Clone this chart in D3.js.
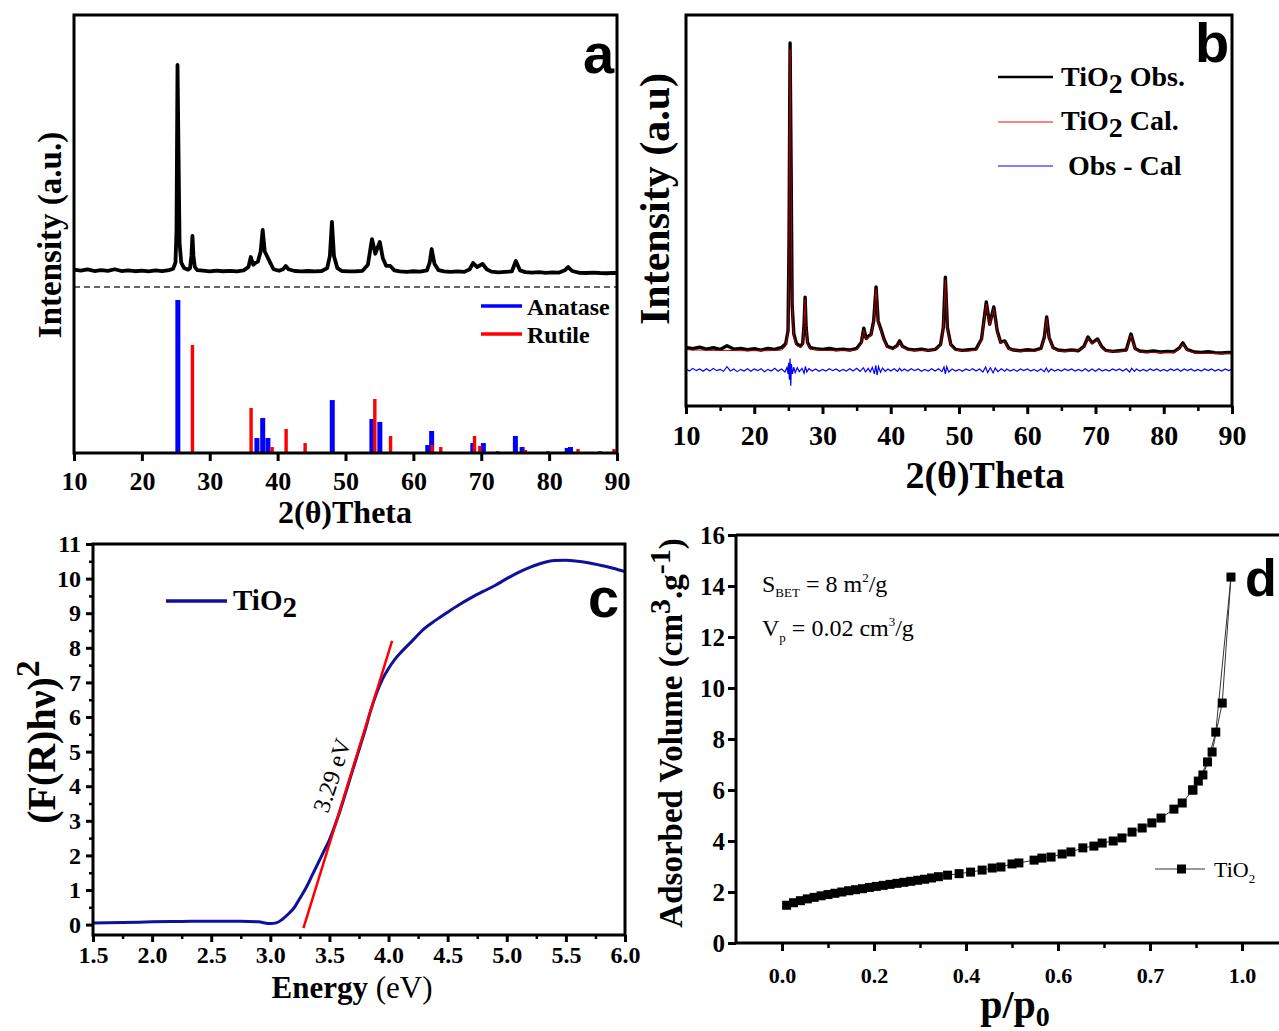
<!DOCTYPE html>
<html><head><meta charset="utf-8">
<script src="https://cdn.jsdelivr.net/npm/d3@7"></script>
<style>body{margin:0;background:#fff}svg{display:block}</style>
</head><body>
<svg id="fig" width="1279" height="1031"></svg>
<script>
// ---------------- DATA ----------------
// Panel a: XRD observed pattern [2theta, intensity a.u.]
const xrdA = [[10,7.8],[11,7.4],[12,7.9],[13,7.2],[14,7.6],[15,7.3],[16,8.0],[17,7.2],[18,7.5],[19,7.1],[20,7.4],[21,7.0],[22,7.5],[23,7.2],[24,7.6],[24.6,8.2],[24.95,11],[25.1,25],[25.25,100],[25.4,60],[25.55,20],[25.8,11],[26.2,8.6],[26.8,7.8],[27.1,8.5],[27.3,14],[27.45,23],[27.6,14],[27.8,9],[28.2,7.6],[29,7.4],[30,7.0],[31,7.4],[32,7.1],[33,7.3],[34,7.0],[35,7.5],[35.7,9],[36.05,13.5],[36.4,10],[36.8,11],[37.1,11.5],[37.5,16],[37.8,25.7],[38.1,16],[38.5,13.5],[38.9,11],[39.4,8],[40.2,7.3],[40.8,8],[41.2,9.5],[41.6,8],[42.5,7.2],[43.5,7.0],[44.5,7.2],[45.5,7.0],[46.5,7.2],[47.3,8.5],[47.7,14],[48.0,29.3],[48.3,14],[48.8,8.5],[49.5,7.2],[50.5,7.0],[51.5,7.1],[52.5,7.3],[53.3,10],[53.9,21.6],[54.4,15],[55.05,20.3],[55.5,13],[56.0,9.5],[56.6,9.5],[57.2,7.5],[58,7.0],[59,6.8],[60,7.1],[61,6.9],[62,7.5],[62.4,11],[62.7,17.1],[63.1,10.5],[63.7,7.6],[64.5,7.0],[65.5,6.8],[66.5,7.0],[67.5,6.8],[68.3,8],[68.8,10.8],[69.4,9],[70.2,10.4],[70.8,8],[71.5,6.9],[72.5,6.6],[73.5,6.8],[74.5,7.0],[75.1,11.7],[75.7,7.5],[76.5,6.7],[77.5,6.5],[78.5,6.7],[79.5,6.4],[80.5,6.6],[81.5,6.5],[82.3,7.5],[82.8,9.0],[83.4,7.2],[84.5,6.4],[85.5,6.3],[86.5,6.5],[87.5,6.3],[88.5,6.2],[89.5,6.4],[90,6.3]];
// Panel a: reference lines [2theta, relative intensity]
const anatase = [[25.3,100],[36.95,9.8],[37.8,22.9],[38.57,9.8],[48.05,34.6],[53.89,22.2],[55.06,20.3],[62.12,5.2],[62.69,14.4],[68.76,6.5],[70.31,6.5],[75.03,11.1],[76.02,3.9],[82.66,3.3],[83.15,3.9]];
const rutile = [[27.45,70.6],[36.09,29.4],[39.19,3.9],[41.25,15.7],[44.05,6.5],[54.32,35.3],[56.64,11.1],[62.75,5.2],[64.04,3.9],[69.01,11.1],[69.79,4.6],[72.41,1.3],[76.51,2.0],[79.82,1.3],[84.26,2.6],[87.5,1.3],[89.55,2.6]];
const thetaTicks = [10,20,30,40,50,60,70,80,90];
const thetaMinor = [15,25,35,45,55,65,75,85];

// Panel b: Rietveld refinement [2theta, intensity]
const obsB = [[10,6.9],[11,6.5],[12,7.0],[13,6.4],[14,6.8],[15,6.3],[16,7.4],[17,6.4],[18,6.6],[19,6.2],[20,6.5],[21,6.1],[22,6.6],[23,6.3],[24,6.9],[24.6,8],[24.95,12],[25.1,40],[25.25,100],[25.4,62],[25.55,20],[25.8,11],[26.2,8],[26.8,7.3],[27.1,8.2],[27.3,14],[27.45,22.3],[27.6,13],[27.8,8.5],[28.2,6.8],[29,6.5],[30,6.3],[31,6.6],[32,6.2],[33,6.4],[34,6.1],[35,6.6],[35.7,8.5],[36.05,12.8],[36.4,9.6],[36.8,10.5],[37.1,10.8],[37.5,15],[37.85,25.4],[38.15,15],[38.6,12.2],[39.0,9.5],[39.5,7.2],[40.3,6.6],[40.9,7.4],[41.3,8.9],[41.7,7.3],[42.5,6.4],[43.5,6.1],[44.5,6.4],[45.5,6.0],[46.5,6.3],[47.3,7.8],[47.7,13],[48.0,28.4],[48.3,13],[48.8,7.8],[49.5,6.3],[50.5,6.0],[51.5,6.2],[52.5,6.4],[53.3,9.5],[54.0,20.8],[54.5,14],[55.1,19.3],[55.6,12],[56.1,8.5],[56.7,8.9],[57.3,6.6],[58,6.1],[59,5.9],[60,6.2],[61,6.0],[62,6.6],[62.5,10],[62.85,16.2],[63.2,10],[63.8,6.8],[64.5,6.1],[65.5,5.9],[66.5,6.1],[67.5,5.9],[68.3,7.2],[68.9,10.1],[69.5,8.3],[70.3,9.5],[70.9,7.2],[71.5,6.0],[72.5,5.7],[73.5,5.9],[74.5,6.1],[75.2,11.0],[75.8,6.6],[76.5,5.8],[77.5,5.6],[78.5,5.8],[79.5,5.5],[80.5,5.7],[81.5,5.6],[82.3,6.8],[82.8,8.3],[83.4,6.3],[84.5,5.5],[85.5,5.4],[86.5,5.6],[87.5,5.3],[88.5,5.2],[89.5,5.4],[90,5.3]];
const calcB = [[10,6.2],[12,6.1],[14,6.0],[16,6.0],[18,5.9],[20,5.9],[22,5.9],[24,6.1],[24.6,7.2],[24.95,11],[25.1,38],[25.25,98],[25.4,60],[25.55,19],[25.8,10],[26.2,7.5],[26.8,6.8],[27.1,7.8],[27.3,13.5],[27.45,21.5],[27.6,12.5],[27.8,8],[28.2,6.4],[30,6.0],[32,5.9],[34,5.9],[35,6.2],[35.7,8.2],[36.05,12.3],[36.4,9.3],[36.8,10.2],[37.1,10.5],[37.5,14.6],[37.85,24.8],[38.15,14.6],[38.6,11.8],[39.0,9.2],[39.5,6.9],[40.3,6.3],[40.9,7.1],[41.3,8.6],[41.7,7.0],[42.5,6.1],[44,5.9],[46,5.9],[47.3,7.5],[47.7,12.6],[48.0,27.6],[48.3,12.6],[48.8,7.5],[49.5,6.0],[51,5.8],[52.5,6.1],[53.3,9.2],[54.0,20.2],[54.5,13.6],[55.1,18.8],[55.6,11.7],[56.1,8.2],[56.7,8.6],[57.3,6.3],[59,5.7],[61,5.7],[62,6.3],[62.5,9.7],[62.85,15.8],[63.2,9.7],[63.8,6.5],[65,5.7],[67,5.7],[68.3,6.9],[68.9,9.8],[69.5,8.0],[70.3,9.2],[70.9,6.9],[71.5,5.8],[73,5.5],[74.5,5.8],[75.2,10.6],[75.8,6.3],[76.5,5.5],[78,5.4],[80,5.3],[81.5,5.3],[82.3,6.5],[82.8,8.0],[83.4,6.0],[84.5,5.2],[86,5.1],[88,5.0],[90,5.0]];
const diffB = [[10,0.4],[10.5,-0.3],[11,0.5],[11.5,-0.2],[12,0.3],[12.5,-0.4],[13,0.4],[13.5,-0.3],[14,0.5],[14.5,-0.2],[15,0.2],[15.5,-0.4],[16,1.0],[16.5,-0.3],[17,0.3],[17.5,-0.5],[18,0.2],[18.5,-0.3],[19,0.4],[19.5,-0.4],[20,0.3],[20.5,-0.2],[21,0.4],[21.5,-0.5],[22,0.2],[22.5,-0.3],[23,0.5],[23.5,-0.4],[24,0.3],[24.5,-0.6],[24.8,0.8],[24.95,-1.2],[25.05,2.2],[25.15,-3.0],[25.25,3.5],[25.35,-4.8],[25.45,1.8],[25.6,-1.2],[25.8,0.9],[26.0,-0.8],[26.3,0.7],[26.6,-0.5],[27.0,0.5],[27.3,-1.0],[27.5,1.1],[27.7,-0.6],[28,0.4],[28.5,-0.3],[29,0.3],[29.5,-0.4],[30,0.2],[30.5,-0.3],[31,0.4],[31.5,-0.2],[32,0.3],[32.5,-0.4],[33,0.2],[33.5,-0.3],[34,0.4],[34.5,-0.3],[35,0.5],[35.5,-0.4],[36,0.7],[36.3,-0.6],[36.7,0.5],[37.0,-0.6],[37.3,0.8],[37.6,-1.2],[37.8,1.4],[38.0,-1.6],[38.2,1.0],[38.5,-0.7],[38.8,0.6],[39.2,-0.4],[39.6,0.3],[40,-0.3],[40.5,0.4],[41,-0.4],[41.3,0.5],[41.6,-0.3],[42,0.3],[42.5,-0.3],[43,0.4],[43.5,-0.2],[44,0.3],[44.5,-0.4],[45,0.2],[45.5,-0.3],[46,0.4],[46.5,-0.3],[47,0.4],[47.5,-0.5],[47.8,0.9],[48.0,-1.2],[48.2,1.0],[48.5,-0.6],[49,0.3],[49.5,-0.3],[50,0.2],[50.5,-0.4],[51,0.3],[51.5,-0.2],[52,0.4],[52.5,-0.3],[53,0.3],[53.5,-0.6],[53.9,0.9],[54.2,-0.8],[54.6,0.7],[55.0,-0.9],[55.3,0.6],[55.7,-0.5],[56.2,0.4],[56.7,-0.4],[57,0.3],[57.5,-0.3],[58,0.2],[58.5,-0.4],[59,0.3],[59.5,-0.2],[60,0.3],[60.5,-0.3],[61,0.2],[61.5,-0.4],[62,0.3],[62.5,-0.5],[62.8,0.6],[63.1,-0.6],[63.5,0.3],[64,-0.3],[64.5,0.2],[65,-0.3],[65.5,0.3],[66,-0.2],[66.5,0.3],[67,-0.3],[67.5,0.2],[68,-0.3],[68.5,0.4],[69,-0.4],[69.5,0.3],[70,-0.4],[70.5,0.4],[71,-0.3],[71.5,0.2],[72,-0.3],[72.5,0.3],[73,-0.2],[73.5,0.3],[74,-0.3],[74.5,0.4],[75,-0.6],[75.3,0.5],[75.7,-0.4],[76,0.3],[76.5,-0.3],[77,0.2],[77.5,-0.3],[78,0.3],[78.5,-0.2],[79,0.3],[79.5,-0.3],[80,0.2],[80.5,-0.3],[81,0.3],[81.5,-0.2],[82,0.3],[82.5,-0.4],[83,0.3],[83.5,-0.2],[84,0.3],[84.5,-0.3],[85,0.2],[85.5,-0.3],[86,0.3],[86.5,-0.2],[87,0.3],[87.5,-0.3],[88,0.2],[88.5,-0.3],[89,0.3],[89.5,-0.2],[90,0.2]];

// Panel c: Kubelka-Munk plot [E (eV), (F(R)hv)^2]
const kmC = [[1.5,0.05],[1.75,0.06],[2.0,0.08],[2.25,0.09],[2.5,0.1],[2.75,0.1],[2.9,0.08],[3.0,0.03],[3.05,0.05],[3.1,0.15],[3.15,0.3],[3.2,0.48],[3.25,0.76],[3.3,1.05],[3.35,1.4],[3.4,1.75],[3.45,2.1],[3.5,2.45],[3.55,2.9],[3.6,3.4],[3.65,3.95],[3.7,4.5],[3.75,5.05],[3.8,5.6],[3.85,6.2],[3.9,6.7],[3.95,7.1],[4.0,7.4],[4.05,7.65],[4.1,7.85],[4.2,8.2],[4.3,8.55],[4.4,8.8],[4.5,9.03],[4.6,9.25],[4.7,9.45],[4.8,9.63],[4.9,9.8],[5.0,10.0],[5.1,10.18],[5.2,10.33],[5.3,10.45],[5.4,10.52],[5.5,10.53],[5.6,10.5],[5.7,10.45],[5.8,10.38],[5.9,10.3],[6.0,10.2]];
const tangentC = [[3.28,-0.1],[4.03,8.2]];
const eTicks = [1.5,2.0,2.5,3.0,3.5,4.0,4.5,5.0,5.5,6.0];
const eMinor = [1.75,2.25,2.75,3.25,3.75,4.25,4.75,5.25,5.75];
const kmTicks = [0,1,2,3,4,5,6,7,8,9,10,11];
const kmMinor = [0.5,1.5,2.5,3.5,4.5,5.5,6.5,7.5,8.5,9.5,10.5];

// Panel d: N2 isotherm [p/p0, volume]
const adsD = [[0.01,1.48],[0.025,1.58],[0.04,1.66],[0.055,1.73],[0.07,1.79],[0.085,1.85],[0.10,1.90],[0.115,1.95],[0.13,2.0],[0.145,2.05],[0.16,2.09],[0.175,2.13],[0.19,2.18],[0.205,2.22],[0.22,2.26],[0.235,2.30],[0.25,2.34],[0.265,2.38],[0.28,2.42],[0.295,2.46],[0.31,2.5],[0.325,2.55],[0.34,2.6],[0.36,2.66],[0.385,2.72],[0.41,2.78],[0.435,2.86],[0.457,2.94],[0.476,2.98],[0.5,3.1],[0.515,3.14],[0.548,3.25],[0.565,3.33],[0.585,3.37],[0.609,3.49],[0.628,3.57],[0.654,3.73],[0.678,3.8],[0.696,3.92],[0.72,4.0],[0.739,4.12],[0.761,4.35],[0.783,4.51],[0.804,4.71],[0.824,4.9],[0.852,5.25],[0.87,5.49],[0.893,6.0],[0.915,6.59],[0.935,7.49],[0.957,9.41],[0.976,14.35]];
const desD = [[0.976,14.35],[0.943,8.27],[0.925,7.1],[0.905,6.35],[0.893,6.0]];
const pTicks = [0,0.2,0.4,0.6,0.8,1.0];
const pTickLabels = ["0.0","0.2","0.4","0.6","0.7","1.0"];
const pMinor = [0.1,0.3,0.5,0.7,0.9];
const vTicks = [0,2,4,6,8,10,12,14,16];

// ---------------- DRAW ----------------
const SERIF = "'Liberation Serif','Times New Roman',serif";
const SANS = "'Liberation Sans',Arial,sans-serif";
const svg = d3.select('#fig');
svg.append('rect').attr('width',1279).attr('height',1031).attr('fill','#fff');

function styleAxis(g, fs, sw, textY){
  g.select('.domain').remove();
  g.selectAll('line').attr('stroke','#000').attr('stroke-width',sw);
  g.selectAll('text').attr('font-family',SERIF).attr('font-weight','bold')
    .attr('font-size',fs).attr('fill','#000');
  if (textY !== undefined) g.selectAll('text').attr('dy',null).attr('y',textY);
}
function frame(x0,y0,x1,y1,sw){
  svg.append('rect').attr('x',x0).attr('y',y0).attr('width',x1-x0).attr('height',y1-y0)
    .attr('fill','none').attr('stroke','#000').attr('stroke-width',sw);
}
function txt(x,y,s,fs,opts={}){
  const t = svg.append('text').attr('x',x).attr('y',y).text(s)
    .attr('font-family',opts.sans?SANS:SERIF).attr('font-size',fs)
    .attr('font-weight',opts.normal?'normal':'bold').attr('fill','#000');
  if (opts.anchor) t.attr('text-anchor',opts.anchor);
  if (opts.rotate!==undefined) t.attr('transform',`rotate(${opts.rotate},${x},${y})`);
  if (opts.italic) t.attr('font-style','italic');
  return t;
}

// ===== Panel a =====
const xA = d3.scaleLinear().domain([10,90]).range([74,617]);
const yA = d3.scaleLinear().domain([0,100]).range([287,65]);
const yAbar = d3.scaleLinear().domain([0,100]).range([453,300]);
svg.append('line').attr('x1',xA(10)).attr('x2',xA(90)).attr('y1',yA(0)).attr('y2',yA(0))
  .attr('stroke','#333').attr('stroke-width',1.5).attr('stroke-dasharray','6,4');
svg.append('path').datum(xrdA).attr('fill','none').attr('stroke','#000').attr('stroke-width',3.8)
  .attr('stroke-linejoin','round')
  .attr('d', d3.line().x(d=>xA(d[0])).y(d=>yA(d[1])));
svg.append('g').selectAll('rect').data(anatase).join('rect')
  .attr('x',d=>xA(d[0])-2.5).attr('width',5).attr('y',d=>yAbar(d[1])).attr('height',d=>yAbar(0)-yAbar(d[1]))
  .attr('fill','#0000ff');
svg.append('g').selectAll('rect').data(rutile).join('rect')
  .attr('x',d=>xA(d[0])-1.7).attr('width',3.4).attr('y',d=>yAbar(d[1])).attr('height',d=>yAbar(0)-yAbar(d[1]))
  .attr('fill','#ff0000');
frame(74,15,617,453,3);
styleAxis(svg.append('g').attr('transform','translate(0,453)')
  .call(d3.axisBottom(xA).tickValues(thetaTicks).tickSize(8).tickFormat(d3.format('d'))), 26, 3, 37);
// legend a
svg.append('line').attr('x1',481).attr('x2',522).attr('y1',306).attr('y2',306).attr('stroke','#0000ff').attr('stroke-width',3.5);
txt(527,315,'Anatase',24);
svg.append('line').attr('x1',481).attr('x2',522).attr('y1',334).attr('y2',334).attr('stroke','#ff0000').attr('stroke-width',3.5);
txt(527,343,'Rutile',24);
txt(345,523,'2(θ)Theta',32,{anchor:'middle'});
txt(61,235,'Intensity (a.u.)',33,{anchor:'middle',rotate:-90});
txt(583,73,'a',56,{sans:true});

// ===== Panel b =====
const xB = d3.scaleLinear().domain([10,90]).range([686,1232]);
const yB = d3.scaleLinear().domain([0,100]).range([370,43]);
const lineB = d3.line().x(d=>xB(d[0])).y(d=>yB(d[1]));
svg.append('path').datum(diffB).attr('fill','none').attr('stroke','#0000ff').attr('stroke-width',1.2).attr('d',lineB);
svg.append('path').datum(obsB).attr('fill','none').attr('stroke','#000').attr('stroke-width',3.4).attr('stroke-linejoin','round').attr('d',lineB);
svg.append('path').datum(calcB).attr('fill','none').attr('stroke','#b00000').attr('stroke-width',1).attr('d',lineB);
frame(686,15,1232,406,3);
styleAxis(svg.append('g').attr('transform','translate(0,406)')
  .call(d3.axisBottom(xB).tickValues(thetaMinor).tickSize(5).tickFormat('')), 28, 2.5);
styleAxis(svg.append('g').attr('transform','translate(0,406)')
  .call(d3.axisBottom(xB).tickValues(thetaTicks).tickSize(8).tickFormat(d3.format('d'))), 28, 3, 39);
// legend b
svg.append('line').attr('x1',998).attr('x2',1053).attr('y1',77).attr('y2',77).attr('stroke','#000').attr('stroke-width',2.5);
let t1 = txt(1061,86,'TiO',28); t1.append('tspan').attr('dy',7).text('2'); t1.append('tspan').attr('dy',-7).text(' Obs.');
svg.append('line').attr('x1',998).attr('x2',1053).attr('y1',122).attr('y2',122).attr('stroke','#ff0000').attr('stroke-width',1.2);
let t2 = txt(1061,130,'TiO',28); t2.append('tspan').attr('dy',7).text('2'); t2.append('tspan').attr('dy',-7).text(' Cal.');
svg.append('line').attr('x1',998).attr('x2',1053).attr('y1',166).attr('y2',166).attr('stroke','#0000ff').attr('stroke-width',1.2);
txt(1068,175,'Obs - Cal',28);
txt(985,488,'2(θ)Theta',38,{anchor:'middle'});
txt(669,199,'Intensity (a.u)',42,{anchor:'middle',rotate:-90});
txt(1195,62,'b',56,{sans:true});

// ===== Panel c =====
const xC = d3.scaleLinear().domain([1.5,6.0]).range([93,625]);
const yC = d3.scaleLinear().domain([-0.3,11]).range([935,544]);
svg.append('path').datum(kmC).attr('fill','none').attr('stroke','#10109a').attr('stroke-width',3)
  .attr('d', d3.line().curve(d3.curveMonotoneX).x(d=>xC(d[0])).y(d=>yC(d[1])));
svg.append('path').datum(tangentC).attr('fill','none').attr('stroke','#ff0000').attr('stroke-width',2.5)
  .attr('d', d3.line().x(d=>xC(d[0])).y(d=>yC(d[1])));
frame(93,544,625,935,3);
styleAxis(svg.append('g').attr('transform','translate(0,935)')
  .call(d3.axisBottom(xC).tickValues(eMinor).tickSize(4).tickFormat('')), 24, 2.5);
styleAxis(svg.append('g').attr('transform','translate(0,935)')
  .call(d3.axisBottom(xC).tickValues(eTicks).tickSize(7).tickFormat(d3.format('.1f'))), 24, 3, 28);
styleAxis(svg.append('g').attr('transform','translate(93,0)')
  .call(d3.axisLeft(yC).tickValues(kmMinor).tickSize(4).tickFormat('')), 24, 2.5);
styleAxis(svg.append('g').attr('transform','translate(93,0)')
  .call(d3.axisLeft(yC).tickValues(kmTicks).tickSize(7).tickPadding(5).tickFormat(d3.format('d'))), 24, 3);
// legend c
svg.append('line').attr('x1',166).attr('x2',227).attr('y1',601).attr('y2',601).attr('stroke','#10109a').attr('stroke-width',3.5);
let t3 = txt(233,610,'TiO',29); t3.append('tspan').attr('dy',7).text('2');
txt(328,814,'3.29 eV',24,{normal:true,rotate:-72});
let t5 = txt(352,998,'Energy',31,{anchor:'middle'}); t5.append('tspan').attr('font-weight','normal').text(' (eV)');
let t6 = txt(55,742,'(F(R)hν)',40,{anchor:'middle',rotate:-90});
t6.append('tspan').attr('dy',-16).attr('font-size',34).text('2');
txt(588,617,'c',56,{sans:true});

// ===== Panel d =====
const xD = d3.scaleLinear().domain([-0.1,1.1]).range([736,1288]);
const yD = d3.scaleLinear().domain([0,16]).range([943,535]);
const lineD = d3.line().x(d=>xD(d[0])).y(d=>yD(d[1]));
svg.append('path').datum(adsD).attr('fill','none').attr('stroke','#333').attr('stroke-width',1).attr('d',lineD);
svg.append('path').datum(desD).attr('fill','none').attr('stroke','#333').attr('stroke-width',1).attr('d',lineD);
svg.append('g').selectAll('rect').data(adsD.concat(desD.slice(1))).join('rect')
  .attr('x',d=>xD(d[0])-4.5).attr('y',d=>yD(d[1])-4.5).attr('width',9).attr('height',9).attr('fill','#000');
svg.append('line').attr('x1',736).attr('x2',1279).attr('y1',535).attr('y2',535).attr('stroke','#000').attr('stroke-width',3);
svg.append('line').attr('x1',736).attr('x2',1279).attr('y1',943).attr('y2',943).attr('stroke','#000').attr('stroke-width',3);
svg.append('line').attr('x1',736).attr('x2',736).attr('y1',535).attr('y2',943).attr('stroke','#000').attr('stroke-width',3);
styleAxis(svg.append('g').attr('transform','translate(0,943)')
  .call(d3.axisBottom(xD).tickValues(pMinor).tickSize(5).tickFormat('')), 22, 2.5);
styleAxis(svg.append('g').attr('transform','translate(0,943)')
  .call(d3.axisBottom(xD).tickValues(pTicks).tickSize(8).tickFormat((d,i)=>pTickLabels[i])), 22, 3, 40);
styleAxis(svg.append('g').attr('transform','translate(736,0)')
  .call(d3.axisLeft(yD).tickValues(vTicks).tickSize(8).tickPadding(3).tickFormat(d3.format('d'))), 25, 3);
// annotations
let s1 = txt(762,592,'S',24,{normal:true}); s1.append('tspan').attr('font-size',13).attr('dy',5).text('BET');
s1.append('tspan').attr('dy',-5).text(' = 8 m'); s1.append('tspan').attr('font-size',13).attr('dy',-10).text('2');
s1.append('tspan').attr('dy',10).text('/g');
let s2 = txt(762,636,'V',24,{normal:true}); s2.append('tspan').attr('font-size',13).attr('dy',6).text('p');
s2.append('tspan').attr('dy',-6).text(' = 0.02 cm'); s2.append('tspan').attr('font-size',13).attr('dy',-10).text('3');
s2.append('tspan').attr('dy',10).text('/g');
// legend d
svg.append('line').attr('x1',1155).attr('x2',1205).attr('y1',869).attr('y2',869).attr('stroke','#333').attr('stroke-width',1);
svg.append('rect').attr('x',1177).attr('y',864.5).attr('width',9).attr('height',9).attr('fill','#000');
let s3 = txt(1214,877,'TiO',22,{normal:true}); s3.append('tspan').attr('font-size',13).attr('dy',6).text('2');
let s4 = txt(1015,1018,'p/p',40,{anchor:'middle'}); s4.append('tspan').attr('font-size',28).attr('dy',8).text('0');
let s5 = txt(682,733,'Adsorbed Volume (cm',33,{anchor:'middle',rotate:-90});
s5.append('tspan').attr('dy',-12).attr('font-size',30).text('3');
s5.append('tspan').attr('dy',12).text('.g');
s5.append('tspan').attr('dy',-12).attr('font-size',30).text('-1');
s5.append('tspan').attr('dy',12).text(')');
txt(1245,596,'d',52,{sans:true});
</script>
</body></html>
